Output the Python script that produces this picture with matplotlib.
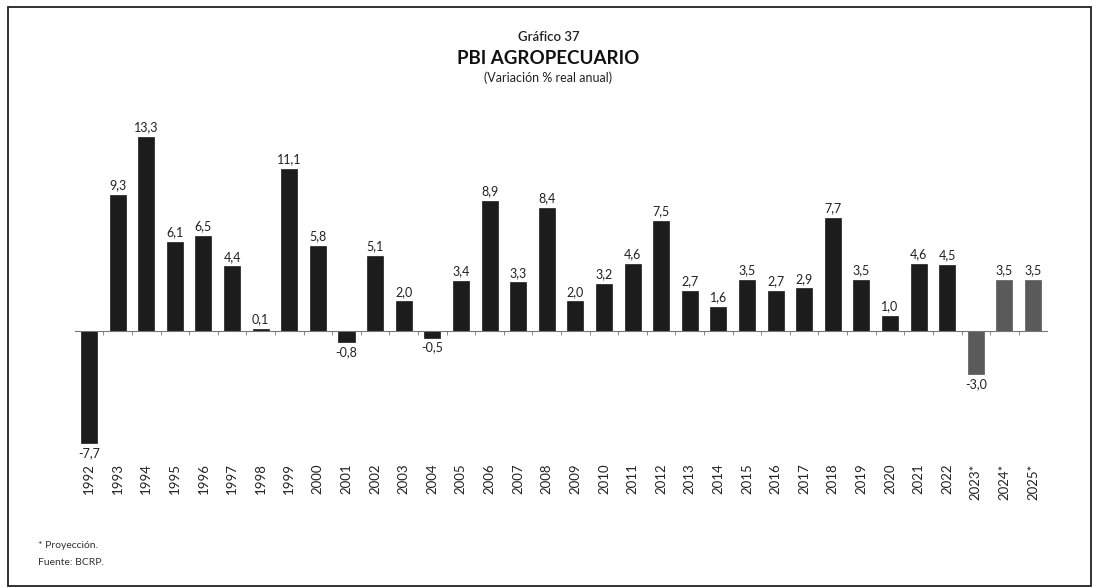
import matplotlib
matplotlib.use("Agg")
import matplotlib.pyplot as plt
from matplotlib.patches import Rectangle
import numpy as np

years = ["1992", "1993", "1994", "1995", "1996", "1997", "1998", "1999", "2000",
         "2001", "2002", "2003", "2004", "2005", "2006", "2007", "2008", "2009",
         "2010", "2011", "2012", "2013", "2014", "2015", "2016", "2017", "2018",
         "2019", "2020", "2021", "2022", "2023*", "2024*", "2025*"]
values = [-7.7, 9.3, 13.3, 6.1, 6.5, 4.4, 0.1, 11.1, 5.8, -0.8, 5.1, 2.0, -0.5,
          3.4, 8.9, 3.3, 8.4, 2.0, 3.2, 4.6, 7.5, 2.7, 1.6, 3.5, 2.7, 2.9, 7.7,
          3.5, 1.0, 4.6, 4.5, -3.0, 3.5, 3.5]
projected = [y.endswith("*") for y in years]

plt.rcParams['font.family'] = ['Lato', 'DejaVu Sans']

fig = plt.figure(figsize=(10.99, 5.88), dpi=100)
ax = fig.add_axes([0.068, 0.2143, 0.885, 0.5833])

x = np.arange(len(years))
colors = ["#5a5a5a" if p else "#1c1c1c" for p in projected]
ax.bar(x, values, width=0.56, color=colors, edgecolor=colors, linewidth=0.5, zorder=2)

ax.set_xlim(-0.5, len(years) - 0.5)
ax.set_ylim(-9.0, 14.5)

for xi, v in zip(x, values):
    txt = f"{v:.1f}".replace(".", ",")
    if v >= 0:
        ax.text(xi, v + 0.25, txt, ha="center", va="bottom", fontsize=9, color="#222222")
    else:
        ax.text(xi, v - 0.25, txt, ha="center", va="top", fontsize=9, color="#222222")

for s in ["top", "right", "left"]:
    ax.spines[s].set_visible(False)
ax.spines["bottom"].set_position(("data", 0))
ax.spines["bottom"].set_color("#777777")
ax.spines["bottom"].set_linewidth(0.8)
ax.set_yticks([])
ax.set_xticks([])
ax.set_xticks(x[:-1] + 0.5, minor=True)
ax.tick_params(axis="x", which="minor", length=3, direction="out", color="#777777")

sec = ax.secondary_xaxis("bottom")
sec.spines["bottom"].set_visible(False)
sec.set_xticks(x)
sec.set_xticklabels(years, rotation=90, fontsize=9.5, color="#222222")
sec.tick_params(length=0, pad=1)

fig.text(0.499, 0.937, "Gráfico 37", ha="center", va="center", fontsize=9.5,
         fontweight="semibold", color="#222222")
fig.text(0.499, 0.901, "PBI AGROPECUARIO", ha="center", va="center", fontsize=13.5,
         fontweight="bold", color="#111111")
fig.text(0.499, 0.867, "(Variación % real anual)", ha="center", va="center", fontsize=9,
         color="#222222")

fig.text(0.035, 0.073, "* Proyección.", ha="left", va="center", fontsize=7.5, color="#333333")
fig.text(0.035, 0.044, "Fuente: BCRP.", ha="left", va="center", fontsize=7.5, color="#333333")

border = Rectangle((0.007, 0.004), 0.986, 0.984, transform=fig.transFigure,
                   fill=False, edgecolor="#222222", linewidth=1.3)
fig.patches.append(border)

fig.savefig("out.png", dpi=100)
